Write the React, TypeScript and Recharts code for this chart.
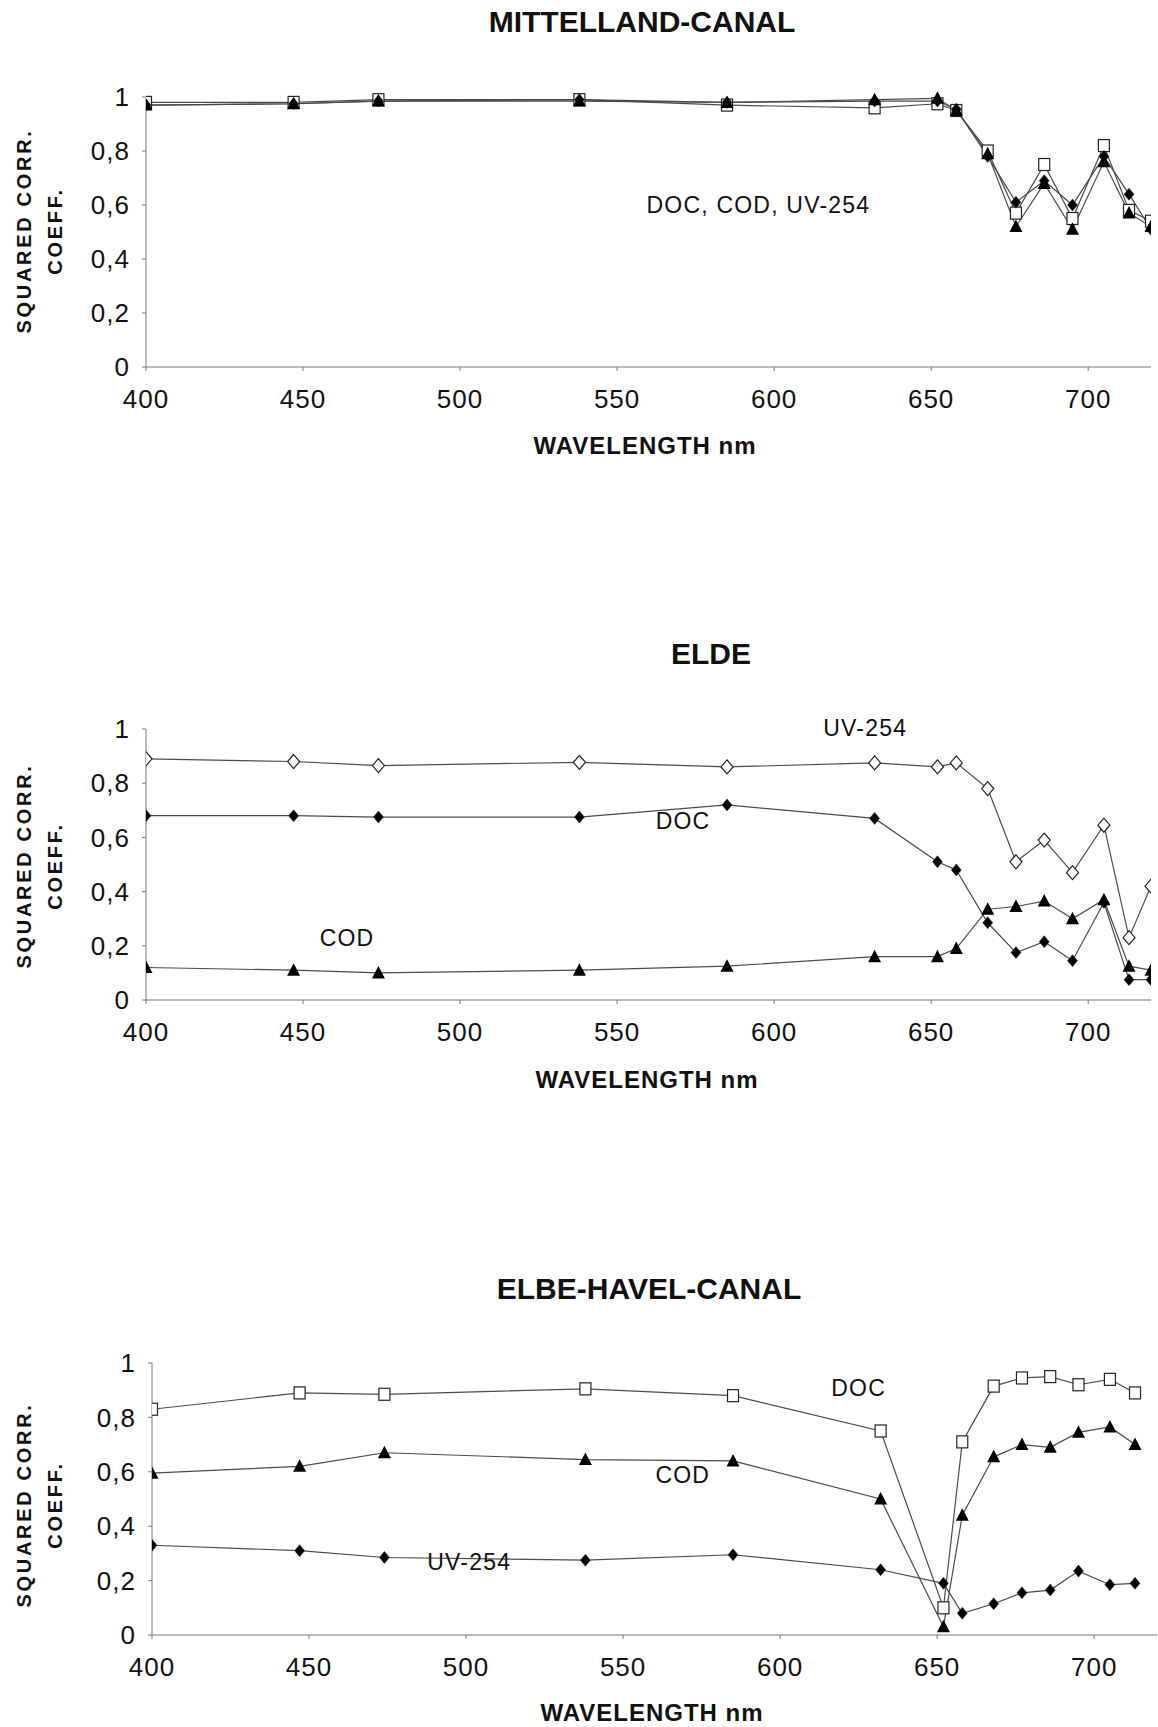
import React from 'react';
import { LineChart, Line, XAxis, YAxis, ReferenceDot } from 'recharts';

// wavelengths (nm) of the measured bands
const wavelengths = [400, 447, 474, 538, 585, 632, 652, 658, 668, 677, 686, 695, 705, 713, 720];
const xTicks = [400, 450, 500, 550, 600, 650, 700];
const yTicks = [0, 0.2, 0.4, 0.6, 0.8, 1];

// MITTELLAND-CANAL
const mlDoc = [0.98, 0.98, 0.99, 0.99, 0.97, 0.96, 0.975, 0.95, 0.8, 0.57, 0.75, 0.55, 0.82, 0.58, 0.54];
const mlUv = [0.97, 0.975, 0.985, 0.99, 0.98, 0.985, 0.985, 0.955, 0.78, 0.61, 0.69, 0.6, 0.78, 0.64, 0.51];
const mlCod = [0.97, 0.975, 0.985, 0.985, 0.98, 0.99, 0.995, 0.95, 0.79, 0.52, 0.68, 0.51, 0.76, 0.57, 0.52];

// ELDE
const elUv = [0.89, 0.88, 0.865, 0.877, 0.86, 0.875, 0.86, 0.875, 0.78, 0.51, 0.59, 0.47, 0.645, 0.23, 0.42];
const elDoc = [0.68, 0.68, 0.675, 0.675, 0.72, 0.67, 0.51, 0.48, 0.285, 0.175, 0.215, 0.145, 0.36, 0.075, 0.075];
const elCod = [0.12, 0.11, 0.1, 0.11, 0.125, 0.16, 0.16, 0.19, 0.335, 0.345, 0.365, 0.3, 0.37, 0.125, 0.11];

// ELBE-HAVEL-CANAL (no 720 nm value)
const ehDoc = [0.83, 0.89, 0.885, 0.905, 0.88, 0.75, 0.1, 0.71, 0.915, 0.945, 0.95, 0.92, 0.94, 0.89];
const ehCod = [0.595, 0.62, 0.67, 0.645, 0.64, 0.5, 0.03, 0.44, 0.655, 0.7, 0.69, 0.745, 0.765, 0.7];
const ehUv = [0.33, 0.31, 0.285, 0.275, 0.295, 0.24, 0.19, 0.08, 0.115, 0.155, 0.165, 0.235, 0.185, 0.19];

const FONT = '"Liberation Sans", Arial, sans-serif';
const LINE = '#4a4a4a';
const AXIS = '#777';

const buildRows = (a: number[], b: number[], c: number[]) =>
  a.map((v, i) => ({ wl: wavelengths[i], a: v, b: b[i], c: c[i] }));

const fmt = (v: number) => (v === 0 || v === 1 ? String(v) : v.toFixed(1).replace('.', ','));

type Shape = 'square' | 'diamond' | 'openDiamond' | 'triangle';

const makeDot = (shape: Shape) => (props: any) => {
  const { cx, cy, index } = props;
  if (cx == null || cy == null) return <g key={index} />;
  if (shape === 'triangle') {
    return (
      <polygon key={index} points={`${cx},${cy - 7} ${cx - 6.5},${cy + 5.5} ${cx + 6.5},${cy + 5.5}`} fill="#000" />
    );
  }
  if (shape === 'square') {
    return <rect key={index} x={cx - 5.5} y={cy - 6} width={11} height={12} fill="#fff" stroke="#222" strokeWidth={1.2} />;
  }
  const filled = shape === 'diamond';
  const s = filled ? 6 : 7;
  return (
    <polygon
      key={index}
      points={`${cx},${cy - s} ${cx + s - 1},${cy} ${cx},${cy + s} ${cx - s + 1},${cy}`}
      fill={filled ? '#000' : '#fff'}
      stroke="#222"
      strokeWidth={filled ? 0.5 : 1.2}
    />
  );
};

interface Note { x: number; y: number; text: string }

interface PanelProps {
  top: number;
  height: number;
  plotTop: number;
  plotBottom: number;
  axisX: number;
  right: number;
  rows: any[];
  shapes: [Shape, Shape, Shape];
  notes: Note[];
  title: string;
  titleX: number;
  titleY: number;
  xTitleX: number;
  xTitleY: number;
  yTitleY: number;
}

const centered = (x: number, y: number): React.CSSProperties => ({
  position: 'absolute',
  left: x,
  top: y,
  transform: 'translate(-50%, -50%)',
  whiteSpace: 'nowrap',
});

const Panel: React.FC<PanelProps> = (p) => {
  const xAxisHeight = 60;
  const margin = {
    top: p.plotTop - p.top,
    right: p.right,
    bottom: p.top + p.height - p.plotBottom - xAxisHeight,
    left: 0,
  };
  const tickStyle = { fontSize: 26, fill: '#111', fontFamily: FONT, letterSpacing: 1 };
  return (
    <>
      <div style={{ ...centered(p.titleX, p.titleY), fontSize: 30, fontWeight: 'bold', color: '#111' }}>{p.title}</div>
      <div style={{ ...centered(p.xTitleX, p.xTitleY), fontSize: 24, fontWeight: 'bold', color: '#111', letterSpacing: 1 }}>
        WAVELENGTH nm
      </div>
      <div
        style={{
          ...centered(24, p.yTitleY),
          transform: 'translate(-50%, -50%) rotate(-90deg)',
          fontSize: 20,
          fontWeight: 'bold',
          letterSpacing: 2.7,
          color: '#111',
        }}
      >
        SQUARED CORR.
      </div>
      <div
        style={{
          ...centered(55, p.yTitleY),
          transform: 'translate(-50%, -50%) rotate(-90deg)',
          fontSize: 20,
          fontWeight: 'bold',
          letterSpacing: 2.7,
          color: '#111',
        }}
      >
        COEFF.
      </div>
      <div style={{ position: 'absolute', left: 0, top: p.top }}>
        <LineChart width={1158} height={p.height} data={p.rows} margin={margin}>
          <XAxis
            dataKey="wl"
            type="number"
            domain={[400, 720]}
            ticks={xTicks}
            allowDataOverflow
            height={xAxisHeight}
            stroke={AXIS}
            tickSize={4}
            tickMargin={19}
            tick={tickStyle}
          />
          <YAxis
            type="number"
            domain={[0, 1]}
            ticks={yTicks}
            width={p.axisX}
            stroke={AXIS}
            tickSize={4}
            tickMargin={12}
            tickFormatter={fmt}
            tick={tickStyle}
          />
          <Line dataKey="a" stroke={LINE} strokeWidth={1.2} dot={makeDot(p.shapes[0])} isAnimationActive={false} />
          <Line dataKey="b" stroke={LINE} strokeWidth={1.2} dot={makeDot(p.shapes[1])} isAnimationActive={false} />
          <Line dataKey="c" stroke={LINE} strokeWidth={1.2} dot={makeDot(p.shapes[2])} isAnimationActive={false} />
          {p.notes.map((n) => (
            <ReferenceDot
              key={n.text}
              x={n.x}
              y={n.y}
              r={0}
              fill="none"
              stroke="none"
              ifOverflow="visible"
              label={{ value: n.text, position: 'center', fill: '#111', fontSize: 23, fontFamily: FONT, letterSpacing: 1.2 }}
            />
          ))}
        </LineChart>
      </div>
    </>
  );
};

export default function App() {
  return (
    <div style={{ position: 'absolute', left: 0, top: 0, width: 1158, height: 1727, background: '#fff', fontFamily: FONT }}>
      <Panel
        top={0}
        height={480}
        plotTop={97}
        plotBottom={367}
        axisX={146}
        right={7}
        rows={buildRows(mlDoc, mlUv, mlCod)}
        shapes={['square', 'diamond', 'triangle']}
        notes={[{ x: 595, y: 0.6, text: 'DOC, COD, UV-254' }]}
        title="MITTELLAND-CANAL"
        titleX={642}
        titleY={22}
        xTitleX={645}
        xTitleY={446}
        yTitleY={231}
      />
      <Panel
        top={560}
        height={560}
        plotTop={729}
        plotBottom={1000}
        axisX={146}
        right={7}
        rows={buildRows(elUv, elDoc, elCod)}
        shapes={['openDiamond', 'diamond', 'triangle']}
        notes={[
          { x: 629, y: 1.005, text: 'UV-254' },
          { x: 571, y: 0.66, text: 'DOC' },
          { x: 464, y: 0.23, text: 'COD' },
        ]}
        title="ELDE"
        titleX={711}
        titleY={654}
        xTitleX={647}
        xTitleY={1080}
        yTitleY={866}
      />
      <Panel
        top={1190}
        height={537}
        plotTop={1363}
        plotBottom={1635}
        axisX={152}
        right={1}
        rows={buildRows(ehDoc, ehCod, ehUv)}
        shapes={['square', 'triangle', 'diamond']}
        notes={[
          { x: 625, y: 0.91, text: 'DOC' },
          { x: 569, y: 0.59, text: 'COD' },
          { x: 501, y: 0.27, text: 'UV-254' },
        ]}
        title="ELBE-HAVEL-CANAL"
        titleX={649}
        titleY={1289}
        xTitleX={652}
        xTitleY={1713}
        yTitleY={1505}
      />
    </div>
  );
}
